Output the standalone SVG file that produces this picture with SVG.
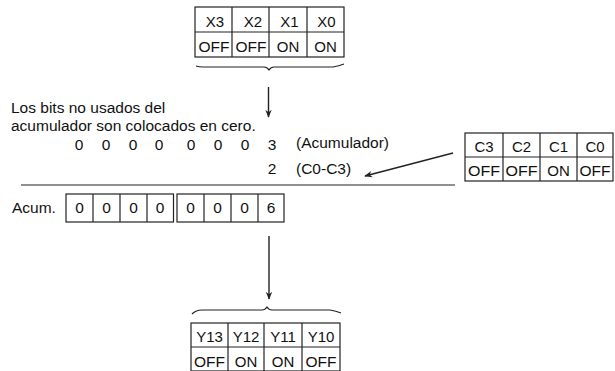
<svg xmlns="http://www.w3.org/2000/svg" width="615" height="371" viewBox="0 0 615 371">
  <style>
    text { font-family: "Liberation Sans", Arial, sans-serif; fill: #111; }
    .cell { font-size: 15px; text-anchor: middle; }
    .lbl { font-size: 15.5px; }
    .dig { font-size: 15.5px; text-anchor: middle; }
    .box { fill: #fff; stroke: #222; stroke-width: 1.2; }
    .ln { fill: none; stroke: #222; stroke-width: 1.2; }
    .conn { fill: none; stroke: #222; stroke-width: 1.4; }
  </style>
  <defs>
    <marker id="ah" viewBox="0 0 10 10" refX="9" refY="5" markerWidth="8" markerHeight="8" orient="auto" markerUnits="userSpaceOnUse">
      <path d="M0,1 L10,5 L0,9 L3,5 Z" fill="#222"/>
    </marker>
  </defs>

  <!-- X input table -->
  <g id="x-inputs">
    <rect class="box" x="195" y="7" width="149" height="50"/>
    <line class="ln" x1="195" y1="32" x2="344" y2="32"/>
    <line class="ln" x1="232" y1="7" x2="232" y2="57"/>
    <line class="ln" x1="269" y1="7" x2="269" y2="57"/>
    <line class="ln" x1="307" y1="7" x2="307" y2="57"/>
    <text class="cell" x="215" y="27">X3</text>
    <text class="cell" x="253" y="27">X2</text>
    <text class="cell" x="289.5" y="27">X1</text>
    <text class="cell" x="326.5" y="27">X0</text>
    <text class="cell" x="214" y="52" textLength="31" lengthAdjust="spacingAndGlyphs">OFF</text>
    <text class="cell" x="251" y="52" textLength="31" lengthAdjust="spacingAndGlyphs">OFF</text>
    <text class="cell" x="288" y="52">ON</text>
    <text class="cell" x="325.5" y="52">ON</text>
    <path class="ln" d="M196,66 Q199,67 203,67 L264,67 Q267,67 269,70 Q271,67 274,67 L333,67 Q339,66 344,64"/>
  </g>

  <!-- explanatory note -->
  <g id="note">
    <text class="lbl" x="11" y="113">Los bits no usados del</text>
    <text class="lbl" x="11" y="131">acumulador son colocados en cero.</text>
  </g>

  <!-- accumulator value -->
  <g id="acc-value">
    <text class="dig" x="79" y="150">0</text>
    <text class="dig" x="106" y="150">0</text>
    <text class="dig" x="133" y="150">0</text>
    <text class="dig" x="159" y="150">0</text>
    <text class="dig" x="191" y="150">0</text>
    <text class="dig" x="218" y="150">0</text>
    <text class="dig" x="245" y="150">0</text>
    <text class="dig" x="272" y="150">3</text>
    <text class="lbl" x="296" y="148">(Acumulador)</text>
  </g>

  <!-- C operand -->
  <g id="c-operand">
    <text class="dig" x="272" y="174">2</text>
    <text class="lbl" x="296" y="174">(C0-C3)</text>
  </g>

  <!-- C bit table -->
  <g id="c-bits">
    <rect class="box" x="465" y="133" width="148" height="48"/>
    <line class="ln" x1="465" y1="157" x2="613" y2="157"/>
    <line class="ln" x1="503" y1="133" x2="503" y2="181"/>
    <line class="ln" x1="540" y1="133" x2="540" y2="181"/>
    <line class="ln" x1="577" y1="133" x2="577" y2="181"/>
    <text class="cell" x="484" y="152">C3</text>
    <text class="cell" x="521.5" y="152">C2</text>
    <text class="cell" x="558.5" y="152">C1</text>
    <text class="cell" x="595" y="152">C0</text>
    <text class="cell" x="484" y="176" textLength="32" lengthAdjust="spacingAndGlyphs">OFF</text>
    <text class="cell" x="521.5" y="176" textLength="32" lengthAdjust="spacingAndGlyphs">OFF</text>
    <text class="cell" x="558.5" y="176">ON</text>
    <text class="cell" x="595" y="176" textLength="31" lengthAdjust="spacingAndGlyphs">OFF</text>
  </g>

  <!-- sum rule -->
  <g id="sum-rule">
    <line class="ln" x1="21" y1="185" x2="455" y2="185"/>
  </g>

  <!-- accumulator result -->
  <g id="acc-result">
    <text class="lbl" x="12" y="213">Acum.</text>
    <rect class="box" x="66" y="194" width="107.5" height="28"/>
    <line class="ln" x1="93" y1="194" x2="93" y2="222"/>
    <line class="ln" x1="120" y1="194" x2="120" y2="222"/>
    <line class="ln" x1="147" y1="194" x2="147" y2="222"/>
    <rect class="box" x="177" y="194" width="107" height="28"/>
    <line class="ln" x1="204" y1="194" x2="204" y2="222"/>
    <line class="ln" x1="231" y1="194" x2="231" y2="222"/>
    <line class="ln" x1="258" y1="194" x2="258" y2="222"/>
    <text class="dig" x="79.5" y="213">0</text>
    <text class="dig" x="106.5" y="213">0</text>
    <text class="dig" x="133.5" y="213">0</text>
    <text class="dig" x="160" y="213">0</text>
    <text class="dig" x="190.5" y="213">0</text>
    <text class="dig" x="217.5" y="213">0</text>
    <text class="dig" x="244.5" y="213">0</text>
    <text class="dig" x="271" y="213">6</text>
  </g>

  <!-- Y output table -->
  <g id="y-outputs">
    <path class="ln" d="M192,314 Q196,310 202,310 L262,310 Q265,310 267,307 Q269,310 272,310 L330,310 Q336,311 341,313"/>
    <rect class="box" x="191" y="323" width="149" height="48"/>
    <line class="ln" x1="191" y1="347" x2="340" y2="347"/>
    <line class="ln" x1="228" y1="323" x2="228" y2="371"/>
    <line class="ln" x1="264" y1="323" x2="264" y2="371"/>
    <line class="ln" x1="302" y1="323" x2="302" y2="371"/>
    <text class="cell" x="209.5" y="342">Y13</text>
    <text class="cell" x="246" y="342">Y12</text>
    <text class="cell" x="283" y="342">Y11</text>
    <text class="cell" x="321" y="342">Y10</text>
    <text class="cell" x="209.5" y="367" textLength="31" lengthAdjust="spacingAndGlyphs">OFF</text>
    <text class="cell" x="246" y="367">ON</text>
    <text class="cell" x="283" y="367">ON</text>
    <text class="cell" x="321" y="367" textLength="31" lengthAdjust="spacingAndGlyphs">OFF</text>
  </g>

  <!-- connectors -->
  <g id="connectors">
    <line class="conn" x1="268.5" y1="87" x2="268.5" y2="117" marker-end="url(#ah)"/>
    <line class="conn" x1="453" y1="153" x2="365" y2="176" marker-end="url(#ah)"/>
    <line class="conn" x1="269" y1="236" x2="269" y2="299" marker-end="url(#ah)"/>
  </g>
</svg>
